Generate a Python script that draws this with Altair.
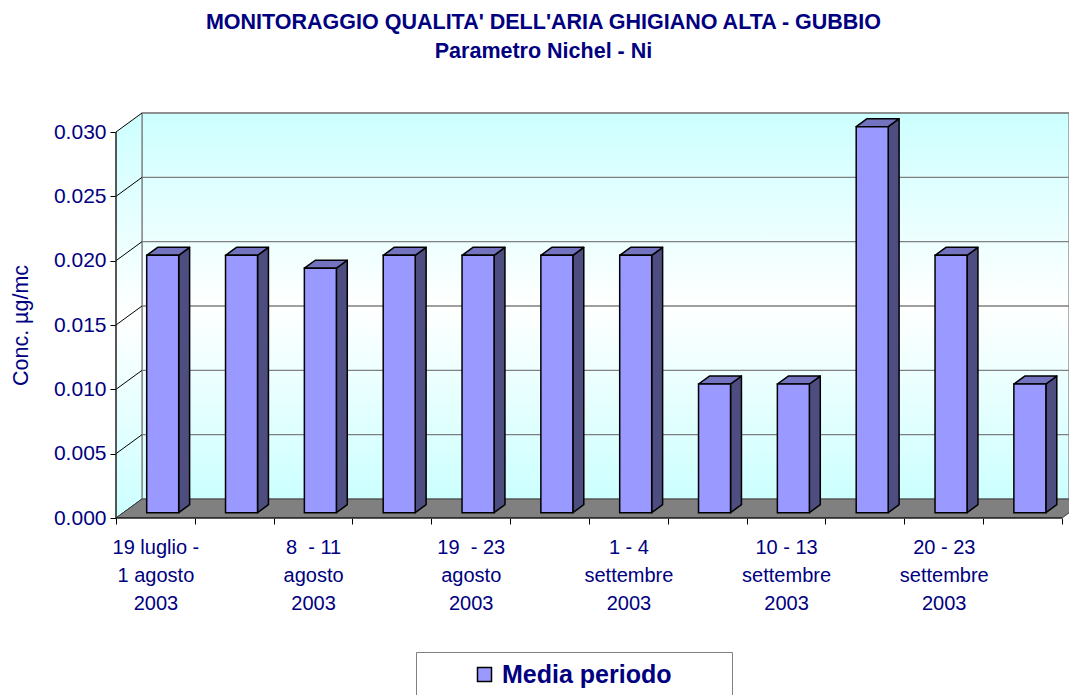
import json
import altair as alt
import pandas as pd

# ---------------- data ----------------
valori = [0.020, 0.020, 0.019, 0.020, 0.020, 0.020, 0.020, 0.010, 0.010, 0.030, 0.020, 0.010]
etichette = [
    ["19 luglio -", "1 agosto", "2003"], [],
    ["8 \u00a0- 11", "agosto", "2003"], [],
    ["19 \u00a0- 23", "agosto", "2003"], [],
    ["1 - 4", "settembre", "2003"], [],
    ["10 - 13", "settembre", "2003"], [],
    ["20 - 23", "settembre", "2003"], [],
]
serie = "Media periodo"
titolo = "MONITORAGGIO QUALITA' DELL'ARIA GHIGIANO ALTA - GUBBIO"
sottotitolo = "Parametro Nichel - Ni"
titolo_y = "Conc. \u00b5g/mc"
y_ticks = [0.000, 0.005, 0.010, 0.015, 0.020, 0.025, 0.030]

# ---------------- geometry (pixels -> data units) ----------------
W, H = 953, 410
N = len(valori)
YTOP = y_ticks[-1]
PX = 946 / N
PY = 386 / YTOP
XMAX = W / PX
YMAX = H / PY
DX = 26 / PX      # depth offset (x)
DY = 19 / PY      # depth offset (y)
BW = 32 / PX      # bar width
F = 0.28          # bar front position in depth
B = 0.42          # bar depth

NAVY = "#000080"
FONT = "Liberation Sans"

xs = alt.Scale(domain=[0, XMAX], nice=False, zero=False)
ys = alt.Scale(domain=[0, YMAX], nice=False, zero=False)

bars = pd.DataFrame({"i": list(range(N)), "v": valori})
bars["xl"] = bars["i"] + 0.5 - BW / 2 + F * DX
bars["xr"] = bars["xl"] + BW
bars["yb"] = F * DY
bars["yt"] = bars["v"] + F * DY
bars["serie"] = serie

side_rows, top_rows = [], []
for _, r in bars.iterrows():
    side_rows.append({"i": r.i, "x": r.xr, "y": r.yt, "y2": r.yb})
    side_rows.append({"i": r.i, "x": r.xr + B * DX, "y": r.yt + B * DY, "y2": r.yb + B * DY})
    top_rows.append({"i": r.i, "y": r.yt, "x": r.xl, "x2": r.xr})
    top_rows.append({"i": r.i, "y": r.yt + B * DY, "x": r.xl + B * DX, "x2": r.xr + B * DX})
side = pd.DataFrame(side_rows)
top = pd.DataFrame(top_rows)

# label expression for the category axis
parts = []
for i, lab in enumerate(etichette):
    if lab:
        parts.append(f"datum.value == {i} ? {json.dumps(lab, ensure_ascii=False)} : ")
label_expr = "".join(parts) + "''"

X_AXIS = alt.Axis(
    values=list(range(N + 1)), title=None, domain=False, grid=False,
    tickSize=6, tickColor="#000000", tickWidth=1,
    labelExpr=label_expr, labelOffset=PX / 2, labelFlush=False, labelOverlap=False,
    labelFontSize=20, labelLineHeight=28, labelColor=NAVY, labelFont=FONT, labelPadding=13,
    labelBaseline="top",
)
Y_AXIS = alt.Axis(
    values=y_ticks, format=".3f", domain=False, grid=False,
    tickSize=6, tickColor="#000000", tickWidth=1,
    labelFontSize=21, labelColor=NAVY, labelFont=FONT, labelPadding=4,
    title=titolo_y, titleFont=FONT, titleFontSize=21.5, titleFontWeight="normal",
    titleColor=NAVY, titleX=-84, titleY=H - (YTOP / 2) * PY, titleAngle=-90,
    titleBaseline="bottom", titleAlign="center",
)


def X(f):
    return alt.X(f, scale=xs, axis=X_AXIS)


def Y(f):
    return alt.Y(f, scale=ys, axis=Y_AXIS)


grad_v = alt.Gradient(
    gradient="linear", x1=0, y1=0, x2=0, y2=1,
    stops=[alt.GradientStop(offset=0, color="#CCFFFF"),
           alt.GradientStop(offset=0.5, color="#FFFFFF"),
           alt.GradientStop(offset=1, color="#CCFFFF")],
)

# back wall
wall = alt.Chart(pd.DataFrame({"x": [DX], "x2": [XMAX], "y": [DY], "y2": [YTOP + DY]})).mark_rect(
    fill=grad_v, stroke="#808080", strokeWidth=1.2
).encode(x=X("x:Q"), x2="x2:Q", y=Y("y:Q"), y2="y2:Q")

# left side wall
lw = pd.DataFrame({"x": [0, DX], "y": [YTOP, YTOP + DY], "y2": [0, DY]})
left_wall = alt.Chart(lw).mark_area(fill=grad_v, orient="vertical").encode(
    x=X("x:Q"), y=Y("y:Q"), y2="y2:Q"
)

# floor
fl = pd.DataFrame({"y": [0, DY], "x": [0, DX], "x2": [N, N + DX]})
floor = alt.Chart(fl).mark_area(fill="#808080", orient="horizontal", stroke="#404040",
                                strokeWidth=1, clip=True).encode(
    y=Y("y:Q"), x=X("x:Q"), x2="x2:Q"
)

# back-wall gridlines
gl = pd.DataFrame({"y": [t + DY for t in y_ticks[1:]]})
gl["x"] = DX
gl["x2"] = XMAX
grid = alt.Chart(gl).mark_rule(color="#808080", strokeWidth=1.3).encode(
    x=X("x:Q"), x2="x2:Q", y=Y("y:Q")
)
edge = alt.Chart(pd.DataFrame({"x": [DX], "y": [DY], "y2": [YTOP + DY]})).mark_rule(
    color="#808080", strokeWidth=1.3
).encode(x=X("x:Q"), y=Y("y:Q"), y2="y2:Q")

# side-wall diagonals
dg = pd.DataFrame({"y": y_ticks})
dg["y2"] = dg["y"] + DY
dg["x"] = 0.0
dg["x2"] = DX
diag = alt.Chart(dg).mark_rule(color="#000000", strokeWidth=1).encode(
    x=X("x:Q"), x2="x2:Q", y=Y("y:Q"), y2="y2:Q"
)

# front axis lines
yline = alt.Chart(pd.DataFrame({"x": [0.0], "y": [0.0], "y2": [YTOP]})).mark_rule(
    color="#202020", strokeWidth=1.5
).encode(x=X("x:Q"), y=Y("y:Q"), y2="y2:Q")
xline = alt.Chart(pd.DataFrame({"x": [0.0], "x2": [float(N)], "y": [0.0]})).mark_rule(
    color="#202020", strokeWidth=1.5
).encode(x=X("x:Q"), x2="x2:Q", y=Y("y:Q"))

# bars
bar_side = alt.Chart(side).mark_area(orient="vertical", fill="#4D4D80", stroke="#000000",
                                     strokeWidth=1.5, strokeJoin="round").encode(
    x=X("x:Q"), y=Y("y:Q"), y2="y2:Q", detail="i:N"
)
bar_top = alt.Chart(top).mark_area(orient="horizontal", fill="#7373BF", stroke="#000000",
                                   strokeWidth=1.5, strokeJoin="round").encode(
    y=Y("y:Q"), x=X("x:Q"), x2="x2:Q", detail="i:N"
)
bar_front = alt.Chart(bars).mark_rect(stroke="#000000", strokeWidth=1.5).encode(
    x=X("xl:Q"), x2="xr:Q", y=Y("yb:Q"), y2="yt:Q",
    color=alt.Color("serie:N", scale=alt.Scale(domain=[serie], range=["#9999FF"]),
                    legend=alt.Legend(
                        orient="none", legendX=300, legendY=544, title=None,
                        padding=10, strokeColor="#808080", fillColor="#FFFFFF",
                        symbolType="square", symbolSize=196, symbolStrokeColor="#000000",
                        symbolStrokeWidth=1.5, symbolOffset=46, labelOffset=5,
                        labelFontSize=25, labelFontWeight="bold", labelColor=NAVY,
                        labelFont=FONT, labelLimit=400,
                        labelExpr="datum.label + '\u2003\u2003\u200b'",
                    )),
)

chart = alt.layer(
    wall, left_wall, grid, edge, diag, floor, xline, yline, bar_side, bar_top, bar_front
).properties(
    width=W, height=H,
    padding={"left": 108, "top": 100, "right": 0, "bottom": 177},
    autosize=alt.AutoSizeParams(type="none"),
    background="#FFFFFF",
    title=alt.TitleParams(
        text=titolo, subtitle=sottotitolo, anchor="middle", dx=-49, offset=46,
        font=FONT, subtitleFont=FONT, fontSize=21.5, subtitleFontSize=21.5,
        fontWeight="bold", subtitleFontWeight="bold", color=NAVY, subtitleColor=NAVY,
        subtitlePadding=7,
    ),
).configure(font=FONT).configure_view(strokeWidth=0, stroke="transparent")

chart.save("out.html", embed_options={"renderer": "svg", "actions": False})
